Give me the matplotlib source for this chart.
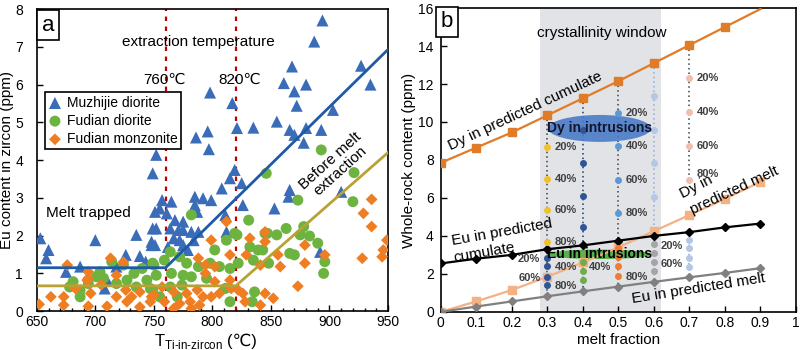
import matplotlib.pyplot as plt
from matplotlib.patches import Ellipse
from matplotlib.ticker import MultipleLocator, FuncFormatter
from matplotlib.offsetbox import TextArea, HPacker, AnchoredOffsetbox

plt.rcParams['font.family'] = ['Liberation Sans', 'DejaVu Sans']
plt.rcParams['mathtext.fontset'] = 'custom'
plt.rcParams['mathtext.rm'] = 'Liberation Sans'

# ---- panel a: zircon Eu vs Ti-in-zircon temperature ----
muzhijie = [
    (894, 7.7), (887, 7.14), (927, 6.5), (935, 6.0), (868, 6.48), (861, 6.04),
    (880, 6.0), (870, 5.82), (872, 5.44), (903, 5.33), (798, 5.79), (817, 5.51),
    (786, 4.6), (796, 4.76), (797, 4.29), (821, 4.85), (835, 4.86), (855, 5.02),
    (866, 4.8), (870, 4.67), (880, 4.85), (893, 4.8), (878, 4.46), (752, 4.14),
    (749, 3.65), (819, 3.74), (815, 3.52), (825, 3.39), (808, 3.25), (757, 2.94),
    (765, 2.9), (785, 3.03), (792, 2.99), (799, 2.94), (826, 2.81), (755, 2.72),
    (761, 2.59), (768, 2.41), (785, 2.81), (787, 2.63), (775, 2.37), (752, 2.19),
    (764, 2.19), (771, 2.15), (775, 2.15), (782, 2.1), (788, 2.1), (811, 2.55),
    (812, 2.1), (751, 1.75), (767, 1.93), (772, 1.88), (775, 1.75), (784, 1.88),
    (762, 1.7), (779, 1.62), (751, 2.63), (749, 2.19), (748, 1.84),
    (866, 3.21), (865, 3.03), (853, 2.72), (910, 3.16), (892, 1.57),
    (653, 1.93), (660, 1.62), (658, 1.4), (700, 1.88), (735, 2.02), (738, 1.46),
    (726, 1.49), (748, 1.75), (687, 1.18), (675, 1.04), (718, 1.18), (743, 1.31),
    (710, 0.82), (708, 0.6),
]
fudian_diorite = [
    (714, 1.31), (724, 1.22), (681, 0.78), (687, 0.56), (687, 0.38), (694, 0.73),
    (701, 0.91), (707, 0.87), (718, 0.73), (727, 0.82), (733, 1.0), (735, 0.64),
    (744, 0.82), (747, 0.6), (750, 1.22), (740, 1.13), (678, 0.64), (704, 1.04),
    (782, 2.55), (831, 2.41), (819, 2.06), (812, 1.88), (832, 1.7), (845, 2.06),
    (839, 1.62), (802, 1.62), (764, 1.57), (749, 1.27), (759, 1.35), (772, 1.44),
    (778, 1.27), (788, 1.18), (798, 1.27), (806, 1.18), (815, 1.13), (822, 1.27),
    (835, 1.35), (843, 1.62), (752, 0.95), (765, 1.0), (775, 0.95), (782, 0.91),
    (795, 0.87), (764, 0.64), (774, 0.69), (749, 0.56), (755, 0.38), (770, 0.38),
    (836, 0.51), (834, 0.25), (815, 0.25), (811, 0.6), (821, 2.02),
    (846, 3.65), (893, 4.27), (921, 3.67), (873, 2.94), (920, 2.9), (863, 2.19),
    (878, 2.24), (855, 2.02), (847, 2.06), (875, 2.02), (883, 1.99), (890, 1.8),
    (866, 1.53), (870, 1.49), (896, 1.31), (895, 1.0), (848, 1.27),
]
fudian_monzonite = [
    (676, 1.22), (694, 1.04), (693, 0.82), (683, 0.6), (662, 0.38), (673, 0.38),
    (652, 0.18), (673, 0.16), (694, 0.13), (696, 0.47), (710, 0.13), (727, 0.25),
    (726, 0.56), (731, 0.38), (718, 0.38), (738, 0.51), (738, 0.11), (747, 0.25),
    (750, 0.42), (713, 1.4), (718, 0.95), (724, 1.3), (705, 0.7), (694, 0.87),
    (812, 2.37), (799, 1.88), (832, 1.93), (845, 2.1), (815, 1.49), (788, 1.4),
    (794, 1.22), (802, 1.18), (829, 1.49), (845, 1.84), (841, 1.22), (794, 1.0),
    (757, 0.64), (767, 0.51), (778, 0.47), (787, 0.56), (792, 0.38), (799, 0.38),
    (806, 0.47), (816, 0.6), (822, 0.56), (826, 0.47), (828, 0.25), (841, 0.16),
    (781, 0.25), (789, 0.16), (759, 0.25), (772, 0.2), (782, 0.07), (767, 0.07),
    (748, 0.38), (815, 0.82), (802, 0.78),
    (936, 2.96), (929, 2.59), (936, 2.24), (949, 1.88), (946, 1.62), (945, 1.44),
    (928, 1.4), (879, 1.75), (896, 1.49), (879, 1.27), (856, 1.49), (858, 1.18),
    (873, 0.66), (845, 0.47), (852, 0.34),
]
trapped_t = [650, 760, 950]
trapped_eu = [1.15, 1.15, 6.93]
fudian_t = [650, 820, 950]
fudian_eu = [0.67, 0.67, 4.2]
extraction_t = [760, 820]

# ---- panel b: whole-rock model ----
melt_frac = [0, 0.1, 0.2, 0.3, 0.4, 0.5, 0.6, 0.7, 0.8, 0.9]
dy_cumulate = [7.85, 8.65, 9.45, 10.35, 11.25, 12.15, 13.1, 14.05, 15.0, 15.95]
dy_melt = [0, 0.55, 1.15, 1.85, 2.6, 3.4, 4.25, 5.1, 5.95, 6.85]
eu_cumulate = [2.55, 2.8, 3.0, 3.3, 3.5, 3.75, 4.0, 4.2, 4.45, 4.65]
eu_melt = [0, 0.28, 0.55, 0.82, 1.08, 1.33, 1.58, 1.82, 2.05, 2.3]

intrusion_frac = [0.3, 0.4, 0.5, 0.6, 0.7]
dy_intrusion = [
    [8.7, 7.0, 5.35, 3.7],
    [9.6, 7.85, 6.1, 4.45],
    [10.45, 8.75, 6.95, 5.2],
    [11.35, 9.6, 7.85, 6.05],
    [12.3, 10.5, 8.75, 6.95],
]
eu_intrusion = [
    [2.85, 2.4, 1.85, 1.4],
    [3.05, 2.6, 2.15, 1.7],
    [3.35, 2.9, 2.4, 1.9],
    [3.55, 3.1, 2.6, 2.15],
    [3.8, 3.35, 2.85, 2.35],
]
percent = ['20%', '40%', '60%', '80%']
window = (0.28, 0.62)

dy_colors = ['#f0c12e', '#2f5597', '#5b9bd5', '#b4c7e7', '#f2bcae']
eu_colors = ['#2f5597', '#70ad47', '#ed7d31', '#a5a5a5', '#b4c7e7']
line_colors = ['#404040', '#1f3864', '#404040', '#8faadc', '#404040']

fig = plt.figure(figsize=(8, 3.5), dpi=100)
ax1 = fig.add_axes([0.046, 0.111, 0.439, 0.863])
ax2 = fig.add_axes([0.551, 0.109, 0.444, 0.868])

# ---------------- panel a ----------------
for pts, marker, color, size, label in [
    (muzhijie, '^', '#3a6cb8', 75, 'Muzhijie diorite'),
    (fudian_diorite, 'o', '#6cb33f', 62, 'Fudian diorite'),
    (fudian_monzonite, 'D', '#ef7d22', 36, 'Fudian monzonite'),
]:
    t, eu = zip(*pts)
    ax1.scatter(t, eu, marker=marker, s=size, color=color, edgecolors='none',
                label=label, zorder=3)

ax1.plot(trapped_t, trapped_eu, color='#1f5aa6', lw=2, zorder=4)
ax1.plot(fudian_t, fudian_eu, color='#b8a235', lw=2, zorder=4)
for t in extraction_t:
    ax1.axvline(t, color='#c00000', ls=(0, (2, 2.5)), lw=1.6, zorder=2)

ax1.set_xlim(650, 950)
ax1.set_ylim(0, 8)
ax1.xaxis.set_major_locator(MultipleLocator(50))
ax1.xaxis.set_minor_locator(MultipleLocator(10))
ax1.yaxis.set_major_locator(MultipleLocator(1))
ax1.tick_params(direction='in', length=4, width=1, labelsize=10)
ax1.tick_params(axis='x', pad=3)
ax1.tick_params(axis='y', pad=10)
ax1.tick_params(which='minor', direction='in', length=2.5, width=1)
for s in ax1.spines.values():
    s.set_linewidth(1.2)

# x label: T with subscript, then (℃) in a font that has the glyph
xlab = HPacker(children=[
    TextArea(r'T$_{\text{Ti-in-zircon}}$', textprops=dict(fontsize=12)),
    TextArea('(℃)', textprops=dict(fontsize=12, family=['Liberation Sans', 'DejaVu Sans'])),
], align='baseline', pad=0, sep=3)
ax1.add_artist(AnchoredOffsetbox(loc='upper center', child=xlab, pad=0, borderpad=0,
                                 frameon=False, bbox_to_anchor=(0.48, -0.07),
                                 bbox_transform=ax1.transAxes))
ax1.set_ylabel('Eu content in zircon (ppm)', fontsize=11, labelpad=1)

ax1.text(788, 7.13, 'extraction temperature', fontsize=11, ha='center', va='center')
ax1.text(759, 6.13, '760℃', fontsize=11, ha='center', va='center')
ax1.text(823, 6.13, '820℃', fontsize=11, ha='center', va='center')
ax1.text(658, 2.6, 'Melt trapped', fontsize=11, ha='left', va='center')
ax1.text(905, 3.85, 'Before melt\nextraction', fontsize=11, ha='center', va='center',
         rotation=42, rotation_mode='anchor', linespacing=1.0)
ax1.text(0.014, 0.982, 'a', transform=ax1.transAxes, fontsize=16, ha='left', va='top',
         bbox=dict(boxstyle='square,pad=0.2', fc='white', ec='black', lw=1.2), zorder=6)

leg = ax1.legend(loc='upper left', bbox_to_anchor=(0.022, 0.725), fontsize=10,
                 frameon=True, fancybox=False, edgecolor='black', framealpha=1,
                 borderpad=0.25, labelspacing=0.3, handlelength=1.0,
                 handletextpad=0.35, borderaxespad=0)
leg.get_frame().set_linewidth(1.2)

# ---------------- panel b ----------------
ax2.axvspan(window[0], window[1], color='#e1e3e6', zorder=0, lw=0)

ax2.plot(melt_frac, dy_cumulate, color='#e07b28', lw=1.6, marker='s', ms=5.5,
         markevery=slice(0, 9), zorder=3)
ax2.plot(melt_frac, dy_melt, color='#f4b183', lw=1.6, marker='s', ms=5.5, zorder=3)
ax2.plot(melt_frac, eu_cumulate, color='black', lw=1.6, marker='D', ms=4, zorder=3)
ax2.plot(melt_frac, eu_melt, color='#808080', lw=1.6, marker='D', ms=4, zorder=3)

for i, x in enumerate(intrusion_frac):
    j = melt_frac.index(x)
    if i < 4:
        ax2.plot([x, x], [dy_cumulate[j], eu_melt[j]], ls=(0, (1, 2)), lw=1.1,
                 color=line_colors[i], zorder=2)
    else:
        ax2.plot([x, x], [dy_cumulate[j], dy_intrusion[i][-1]], ls=(0, (1, 2)), lw=1.1,
                 color=line_colors[i], zorder=2)
        ax2.plot([x, x], [eu_intrusion[i][0], eu_intrusion[i][-1]], ls=(0, (1, 2)), lw=1.1,
                 color='#8faadc', zorder=2)

ax2.add_patch(Ellipse((0.447, 9.66), 0.29, 1.42, fc='#4a7cc8', ec='none', alpha=0.9, zorder=2.5))
ax2.add_patch(Ellipse((0.446, 3.03), 0.295, 0.5, fc='#4caf45', ec='none', alpha=0.95, zorder=2.5))

for i, x in enumerate(intrusion_frac):
    ax2.plot([x] * 4, dy_intrusion[i], ls='none', marker='o', ms=4, color=dy_colors[i], zorder=4)
    ax2.plot([x] * 4, eu_intrusion[i], ls='none', marker='o', ms=4, color=eu_colors[i], zorder=4)

pct_style = dict(fontsize=8, fontweight='bold', color='#404040', va='center', zorder=5)
for i in (0, 2, 4):
    for k in range(4):
        y = dy_intrusion[i][k] + (0.3 if (i == 4 and k == 3) else 0)
        ax2.text(intrusion_frac[i] + 0.02, y, percent[k], ha='left', **pct_style)

# (column, dot index, side, label)
eu_label_spots = [(0, 0, -1, '20%'), (0, 1, 1, '40%'), (0, 2, -1, '60%'), (0, 3, 1, '80%'),
                  (2, 2, -1, '40%'), (2, 3, 1, '80%'), (3, 0, 1, '20%'), (3, 2, 1, '60%')]
for i, k, side, lab in eu_label_spots:
    ax2.text(intrusion_frac[i] + side * 0.02, eu_intrusion[i][k] - 0.06, lab,
             ha='left' if side > 0 else 'right', **pct_style)

ax2.text(0.447, 9.66, 'Dy in intrusions', fontsize=10, fontweight='bold', color='#14142a',
         ha='center', va='center', zorder=5)
ax2.text(0.446, 3.03, 'Eu in intrusions', fontsize=10, fontweight='bold', color='black',
         ha='center', va='center', zorder=5)

ax2.text(0.454, 14.7, 'crystallinity window', fontsize=11, ha='center', va='center')
ax2.text(0.238, 10.55, 'Dy in predicted cumulate', fontsize=11, ha='center', va='center',
         rotation=25, rotation_mode='anchor')
ax2.text(0.72, 6.6, 'Dy in', fontsize=11, ha='center', va='center', rotation=27,
         rotation_mode='anchor')
ax2.text(0.826, 6.38, 'predicted melt', fontsize=11, ha='center', va='center', rotation=25,
         rotation_mode='anchor')
ax2.text(0.173, 4.19, 'Eu in predicted', fontsize=11, ha='center', va='center', rotation=10,
         rotation_mode='anchor')
ax2.text(0.123, 3.14, 'cumulate', fontsize=11, ha='center', va='center', rotation=10,
         rotation_mode='anchor')
ax2.text(0.726, 1.21, 'Eu in predicted melt', fontsize=11, ha='center', va='center',
         rotation=9, rotation_mode='anchor')
ax2.text(0.0, 0.99, 'b', transform=ax2.transAxes, fontsize=16, ha='left', va='top',
         bbox=dict(boxstyle='square,pad=0.2', fc='white', ec='black', lw=1.2), zorder=6)

ax2.set_xlim(0, 1)
ax2.set_ylim(0, 16)
ax2.xaxis.set_major_locator(MultipleLocator(0.1))
ax2.yaxis.set_major_locator(MultipleLocator(2))
ax2.xaxis.set_major_formatter(FuncFormatter(lambda v, p: f'{v:g}'))
ax2.tick_params(direction='in', length=4, width=1, labelsize=10)
ax2.tick_params(axis='x', pad=3)
ax2.tick_params(axis='y', pad=5)
for s in ax2.spines.values():
    s.set_linewidth(1.2)
ax2.set_xlabel('melt fraction', fontsize=11, labelpad=2)
ax2.set_ylabel('Whole-rock content (ppm)', fontsize=11, labelpad=2)

fig.savefig('out.png', dpi=100)
